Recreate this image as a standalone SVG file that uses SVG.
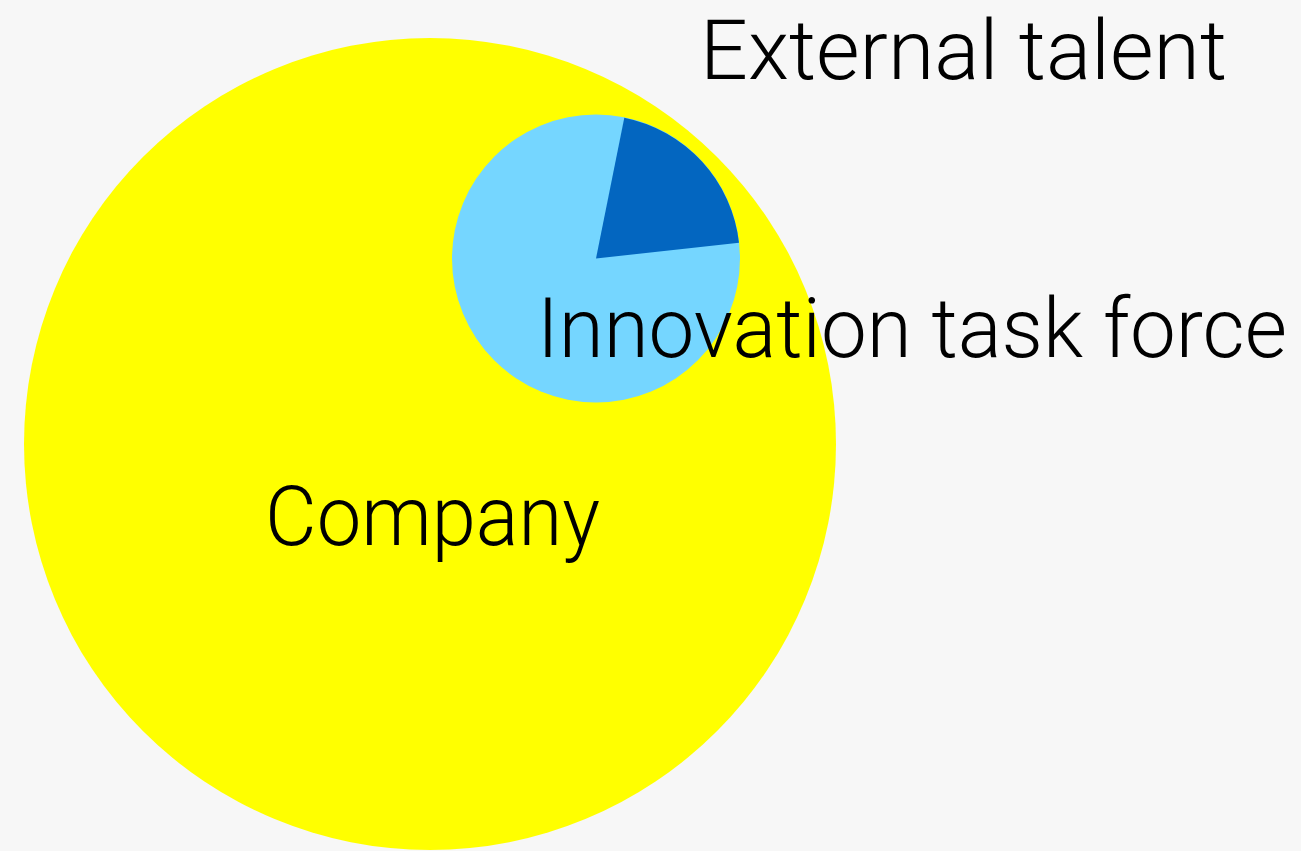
<svg xmlns="http://www.w3.org/2000/svg" width="1301" height="851" viewBox="0 0 1301 851">
<style>
.lbl{font-family:Roboto,"Liberation Sans","DejaVu Sans",sans-serif;font-weight:300;font-size:84px;fill:#000}
</style>
<rect x="0" y="0" width="1301" height="851" fill="#F7F7F7"/>
<g id="company">
<circle cx="430" cy="444" r="406" fill="#FFFF00"/>
</g>
<g id="task-force">
<circle cx="596" cy="258.5" r="144" fill="#75D6FF"/>
<path id="external-share" d="M596,258.5 L624.3,117.7 A144,144 0 0 1 739,242.7 Z" fill="#0366C0"/>
</g>
<g id="labels">
<text class="lbl" x="700" y="79" textLength="527" lengthAdjust="spacingAndGlyphs">External talent</text>
<text class="lbl" x="537" y="357" textLength="750" lengthAdjust="spacingAndGlyphs">Innovation task force</text>
<text class="lbl" x="265" y="545" textLength="335" lengthAdjust="spacingAndGlyphs">Company</text>
</g>
</svg>
